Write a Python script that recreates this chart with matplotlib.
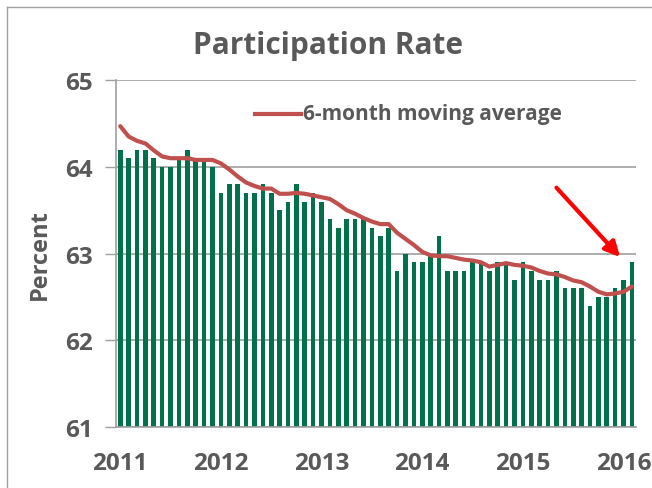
import matplotlib.pyplot as plt
from matplotlib.lines import Line2D

# monthly labor force participation rate, Jan 2011 - Feb 2016
rate = [64.2, 64.1, 64.2, 64.2, 64.1, 64.0, 64.0, 64.1, 64.2, 64.1, 64.1, 64.0,
        63.7, 63.8, 63.8, 63.7, 63.7, 63.8, 63.7, 63.5, 63.6, 63.8, 63.6, 63.7,
        63.6, 63.4, 63.3, 63.4, 63.4, 63.4, 63.3, 63.2, 63.3, 62.8, 63.0, 62.9,
        62.9, 63.0, 63.2, 62.8, 62.8, 62.8, 62.9, 62.9, 62.8, 62.9, 62.9, 62.7,
        62.9, 62.8, 62.7, 62.7, 62.8, 62.6, 62.6, 62.6, 62.4, 62.5, 62.5, 62.6,
        62.7, 62.9]

moving_avg = [64.47, 64.35, 64.30, 64.27, 64.19, 64.12, 64.10, 64.10, 64.10, 64.08,
              64.08, 64.08, 64.04, 63.97, 63.89, 63.82, 63.78, 63.75, 63.75, 63.69,
              63.69, 63.70, 63.69, 63.67, 63.65, 63.63, 63.57, 63.50, 63.46, 63.41,
              63.37, 63.34, 63.34, 63.24, 63.17, 63.10, 63.02, 62.98, 62.97, 62.97,
              62.95, 62.93, 62.92, 62.90, 62.85, 62.87, 62.89, 62.87, 62.86, 62.84,
              62.80, 62.77, 62.76, 62.73, 62.69, 62.67, 62.62, 62.56, 62.53, 62.54,
              62.56, 62.62]

years = ['2011', '2012', '2013', '2014', '2015', '2016']

grey = '#595959'
plt.rcParams['font.family'] = ['Open Sans', 'DejaVu Sans']
plt.rcParams['font.weight'] = 'bold'

fig = plt.figure(figsize=(6.52, 4.89), dpi=100)
ax = fig.add_axes([0.178, 0.1247, 0.797, 0.7093])

x = list(range(len(rate)))
ax.bar(x, [r - 61 for r in rate], bottom=61, width=0.55, color='#007149', zorder=2)
ax.plot(x, moving_avg, color='#C0504D', lw=3, zorder=3, solid_capstyle='round')

ax.set_ylim(61, 65)
ax.set_xlim(-0.5, 61.45)
ax.set_yticks([61, 62, 63, 64, 65])
ax.set_xticks([12 * i for i in range(len(years))])
ax.set_xticklabels(years, fontweight='bold')
ax.set_yticklabels(['61', '62', '63', '64', '65'], fontweight='bold')
ax.tick_params(axis='y', length=8, width=1, color='#a0a0a0', pad=9,
               labelsize=17.5, labelcolor=grey)
ax.tick_params(axis='x', length=0, pad=17, labelsize=17.5, labelcolor=grey)
ax.grid(axis='y', color='#a0a0a0', lw=1.2, zorder=0)
for s in ['top', 'right']:
    ax.spines[s].set_visible(False)
for s in ['left', 'bottom']:
    ax.spines[s].set_color('#a0a0a0')
    ax.spines[s].set_linewidth(1.2)

ax.set_ylabel('Percent', fontsize=17, color=grey, labelpad=9, fontweight='bold')
fig.text(0.503, 0.905, 'Participation Rate', ha='center', va='center',
         fontsize=21.5, color=grey, fontweight='bold')

# legend drawn by hand like the original
fig.add_artist(Line2D([0.391, 0.462], [0.765, 0.765], color='#C0504D', lw=3))
fig.text(0.464, 0.765, '6-month moving average', ha='left', va='center',
         fontsize=15, color=grey, fontweight='bold')

ax.annotate('', xy=(59.6, 62.96), xytext=(52.0, 63.76),
            arrowprops=dict(arrowstyle='-|>,head_length=0.9,head_width=0.45',
                            color='#FF0000', lw=3, shrinkA=0, shrinkB=0))

# outer frame lines (left and top)
fig.add_artist(Line2D([0.011, 0.011], [0.0, 0.984], color='#a0a0a0', lw=1))
fig.add_artist(Line2D([0.011, 1.0], [0.984, 0.984], color='#a0a0a0', lw=1))

fig.savefig('out.png', dpi=100)
